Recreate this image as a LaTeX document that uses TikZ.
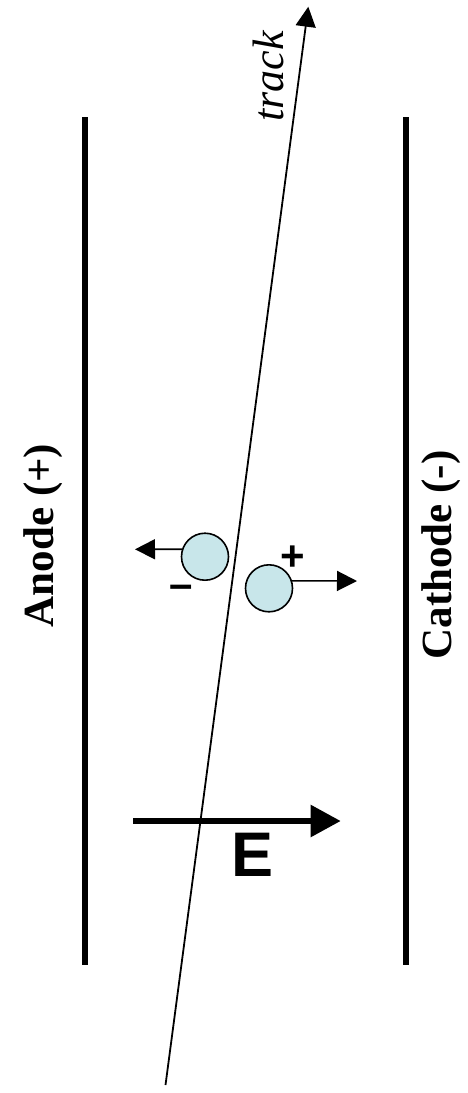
\documentclass[tikz,border=0pt]{standalone}
\usepackage{fontspec}
\setmainfont{Liberation Serif}
\newfontfamily\arialfont{Liberation Sans}
\usetikzlibrary{arrows.meta}
\definecolor{ionfill}{RGB}{200,230,234}
\begin{document}
\begin{tikzpicture}[x=1pt,y=-1pt,
  plate/.style={line width=6pt},
  ion/.style={circle, draw=black, line width=1.6pt, fill=ionfill, minimum size=47pt, inner sep=0pt},
  drift/.style={line width=1.6pt, -{Triangle[length=20pt,width=20pt]}},
  trackline/.style={line width=1.8pt, -{Triangle[length=20pt,width=20pt]}},
  efield/.style={line width=5.6pt, -{Triangle[length=30pt,width=31pt]}},
  electrode/.style={font=\bfseries\fontsize{43}{43}\selectfont, inner sep=0pt, rotate=90, anchor=base},
  charge/.style={font=\arialfont\bfseries\fontsize{42}{42}\selectfont, inner sep=0pt},
]
\useasboundingbox (0,0) rectangle (468,1093);
% plates
\coordinate (a1) at (85,117);
\coordinate (a2) at (85,965);
\coordinate (c1) at (405.7,117);
\coordinate (c2) at (405.7,965);
\draw[plate] (a1) -- (a2);
\draw[plate] (c1) -- (c2);
% electrode labels
\node[electrode] (anode) at (53.3,535.5) {Anode (+)};
\node[electrode] (cathode) at (451.7,555) {Cathode (-)};
% track
\coordinate (tstart) at (165.5,1085);
\coordinate (tend) at (308.3,6.7);
\draw[trackline] (tstart) -- (tend);
\node[font=\itshape\fontsize{44}{44}\selectfont, inner sep=0pt, rotate=90, anchor=base] (tracklabel) at (283,76.5) {track};
% E field
\coordinate (estart) at (133.3,821);
\coordinate (eend) at (340.7,821);
\draw[efield] (estart) -- (eend);
\node[font=\arialfont\bfseries\fontsize{63}{63}\selectfont, inner sep=0pt] (elabel) at (252.5,855) {E};
% ions
\node[ion] (neg) at (205,556.7) {};
\node[ion] (pos) at (269,588.3) {};
\coordinate (negtip) at (135,549.3);
\coordinate (postip) at (357,581);
\draw[drift] (neg.162) -- (negtip);
\draw[drift] (pos.18) -- (postip);
\node[charge] (minus) at (181.5,592) {–};
\node[charge] (plus) at (293,558) {+};
\end{tikzpicture}
\end{document}
